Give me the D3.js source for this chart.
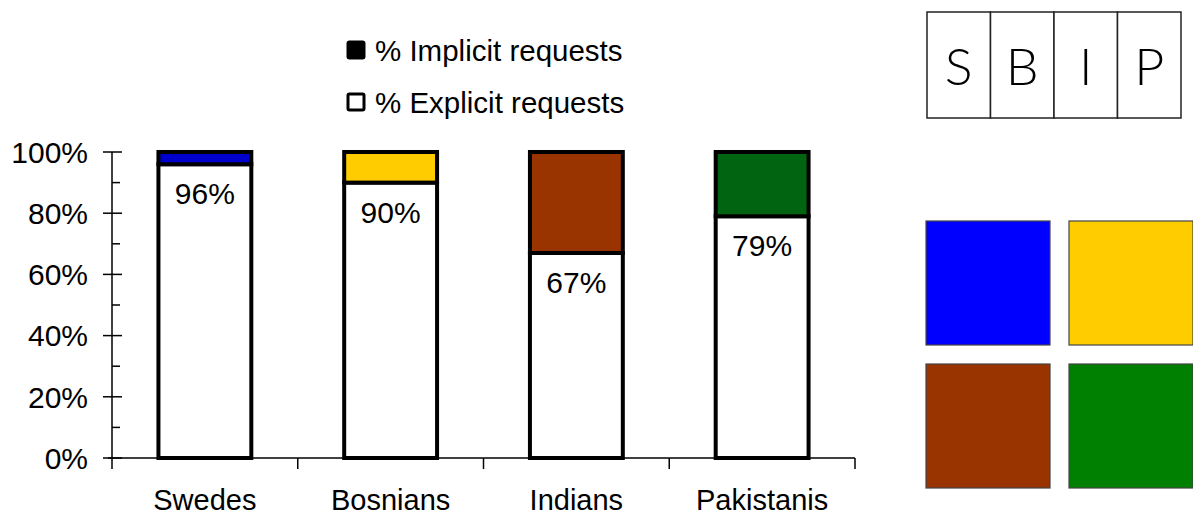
<!DOCTYPE html>
<html>
<head>
<meta charset="utf-8">
<script src="https://cdn.jsdelivr.net/npm/d3@7"></script>
<style>
  html, body { margin: 0; padding: 0; background: #fff; }
  svg { display: block; font-family: "Liberation Sans", Arial, sans-serif; }
</style>
</head>
<body>
<svg id="chart" width="1193" height="518"></svg>
<script>
// Share of requests by group (percent)
const groups = ["Swedes", "Bosnians", "Indians", "Pakistanis"];
const explicitPct = [96, 90, 67, 79];
const implicitPct = [4, 10, 33, 21];
const implicitColors = ["#0000cc", "#ffcc00", "#993300", "#006411"];
const yTicks = [0, 20, 40, 60, 80, 100];
const yMinorTicks = [10, 30, 50, 70, 90];
const legendLabels = ["% Implicit requests", "% Explicit requests"];
const keyLetters = ["S", "B", "I", "P"];
const keyColors = ["#0000ff", "#ffcc00", "#993300", "#008000"];

const svg = d3.select("#chart");

const plot = { left: 112, right: 855, top: 152, bottom: 458 };

const x = d3.scaleBand().domain(groups).range([plot.left, plot.right]).paddingInner(0.5).paddingOuter(0.25);
const xOuter = d3.scaleBand().domain(groups).range([plot.left, plot.right]);
const y = d3.scaleLinear().domain([0, 100]).range([plot.bottom, plot.top]);

// Axes
const yAxis = svg.append("g").attr("transform", `translate(${plot.left},0)`);
yAxis.append("line").attr("y1", y(0)).attr("y2", y(100)).attr("stroke", "#000").attr("stroke-width", 1.5);
yAxis.selectAll("line.major").data(yTicks).join("line")
  .attr("class", "major").attr("x1", -9).attr("x2", 10)
  .attr("y1", d => y(d)).attr("y2", d => y(d)).attr("stroke", "#000").attr("stroke-width", 1.5);
yAxis.selectAll("line.minor").data(yMinorTicks).join("line")
  .attr("class", "minor").attr("x1", 0).attr("x2", 8)
  .attr("y1", d => y(d)).attr("y2", d => y(d)).attr("stroke", "#000").attr("stroke-width", 1.5);
yAxis.selectAll("text").data(yTicks).join("text")
  .attr("x", -24).attr("y", d => y(d)).attr("dy", "0.36em")
  .attr("text-anchor", "end").attr("font-size", 30).text(d => d + "%");

const xAxis = svg.append("g");
xAxis.append("line").attr("x1", plot.left - 4).attr("x2", plot.right).attr("y1", plot.bottom).attr("y2", plot.bottom)
  .attr("stroke", "#000").attr("stroke-width", 1.5);
const xTickPos = groups.map(g => xOuter(g)).concat([plot.right]);
xAxis.selectAll("line.tick").data(xTickPos).join("line")
  .attr("class", "tick").attr("x1", d => d).attr("x2", d => d)
  .attr("y1", plot.bottom).attr("y2", plot.bottom + 11).attr("stroke", "#000").attr("stroke-width", 1.5);
xAxis.selectAll("text").data(groups).join("text")
  .attr("x", d => xOuter(d) + xOuter.bandwidth() / 2).attr("y", 510)
  .attr("text-anchor", "middle").attr("font-size", 29).text(d => d);

// Stacked bars
const bars = svg.append("g");
groups.forEach((g, i) => {
  const bx = x(g), bw = x.bandwidth();
  bars.append("rect").attr("x", bx).attr("width", bw)
    .attr("y", y(explicitPct[i])).attr("height", y(0) - y(explicitPct[i]))
    .attr("fill", "#fff").attr("stroke", "#000").attr("stroke-width", 4);
  bars.append("rect").attr("x", bx).attr("width", bw)
    .attr("y", y(explicitPct[i] + implicitPct[i])).attr("height", y(explicitPct[i]) - y(explicitPct[i] + implicitPct[i]))
    .attr("fill", implicitColors[i]).attr("stroke", "#000").attr("stroke-width", 4);
  bars.append("text").attr("x", bx + bw / 2).attr("y", y(explicitPct[i]) + 40)
    .attr("text-anchor", "middle").attr("font-size", 30).text(explicitPct[i] + "%");
});

// Legend
const legend = svg.append("g");
legendLabels.forEach((t, i) => {
  const cy = 50 + i * 52;
  legend.append("rect").attr("x", 348).attr("y", cy - 8).attr("width", 16).attr("height", 16).attr("rx", 1.5)
    .attr("fill", i === 0 ? "#000" : "#fff").attr("stroke", "#000").attr("stroke-width", 3);
  legend.append("text").attr("x", 375).attr("y", cy).attr("dy", "0.36em")
    .attr("font-size", 29.5).text(t);
});

// Letter key
const key = svg.append("g");
const cellW = 63.5, keyX = 927, keyY = 12, keyH = 106;
keyLetters.forEach((l, i) => {
  key.append("rect").attr("x", keyX + i * cellW).attr("y", keyY).attr("width", cellW).attr("height", keyH)
    .attr("fill", "#fff").attr("stroke", "#222").attr("stroke-width", 1.5);
  key.append("text").attr("x", keyX + i * cellW + cellW / 2).attr("y", 85)
    .attr("text-anchor", "middle").attr("font-family", "Lato, 'Open Sans', sans-serif").attr("font-weight", 300)
    .attr("font-size", 52).text(l);
});

// Colour key
const swatch = 124;
keyColors.forEach((c, i) => {
  const col = i % 2, row = Math.floor(i / 2);
  svg.append("rect").attr("x", 926 + col * 143).attr("y", 221 + row * 143)
    .attr("width", swatch).attr("height", swatch)
    .attr("fill", c).attr("stroke", "#444").attr("stroke-width", 1.2);
});
</script>
</body>
</html>
